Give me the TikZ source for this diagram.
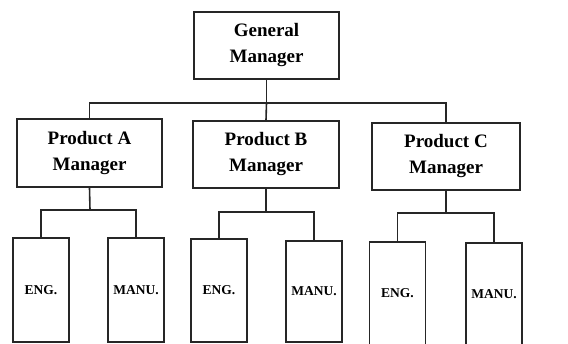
\documentclass[tikz,border=0pt]{standalone}
\usepackage{fontspec}
\setmainfont{Liberation Serif}
\begin{document}
\begin{tikzpicture}[x=1pt,y=-1pt,
  line width=1.6pt, draw=black!85,
  mgr/.style={draw=black!85, line width=1.6pt, align=center, inner sep=0pt,
    font=\fontsize{19}{26}\selectfont\bfseries, text=black},
  dept/.style={draw=black!85, line width=1.6pt, inner sep=0pt, minimum width=56pt,
    font=\fontsize{13.5}{15}\selectfont\bfseries, text=black}]
\useasboundingbox (0,0) rectangle (568,343);
\fill[white] (0,0) rectangle (568,343);
% managers
\node[mgr, minimum width=145pt, minimum height=67pt] (gm) at (266.5,45.5) {General\\Manager};
\node[mgr, minimum width=145pt, minimum height=68pt] (pa) at (89.5,153) {Product A\\Manager};
\node[mgr, minimum width=146pt, minimum height=67pt] (pb) at (266,154.5) {Product B\\Manager};
\node[mgr, minimum width=148pt, minimum height=67pt] (pc) at (446,156.5) {Product C\\Manager};
% departments
\node[dept, minimum height=104pt] (ea) at (41,290) {ENG.};
\node[dept, minimum height=104pt] (ma) at (136,290) {MANU.};
\node[dept, minimum height=103pt] (eb) at (219,290.5) {ENG.};
\node[dept, minimum height=101pt] (mb) at (314,291.5) {MANU.};
\node[dept, minimum height=103pt] (ec) at (397.5,293.5) {ENG.};
\node[dept, minimum height=102pt] (mc) at (494,294) {MANU.};
% bus coordinates
\coordinate (bus) at (266.5,103);
\coordinate (busA) at (90,103);
\coordinate (busC) at (446,103);
\coordinate (subA) at (90,210);
\coordinate (subB) at (266,212);
\coordinate (subC) at (446,213);
% connectors
\draw (gm.south) -- (bus);
\draw (pa.north) |- (busA) -- (busC) -- (pc.north);
\draw (bus) -- (pb.north);
\draw (pa.south) -- (subA);
\draw (ea.north) |- (subA) -| (ma.north);
\draw (pb.south) -- (subB);
\draw (eb.north) |- (subB) -| (mb.north);
\draw (pc.south) -- (subC);
\draw (ec.north) |- (subC) -| (mc.north);
\end{tikzpicture}
\end{document}
